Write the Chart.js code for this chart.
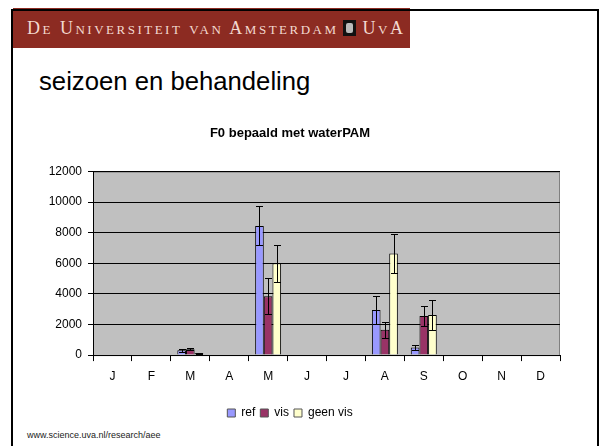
<!DOCTYPE html>
<html>
<head>
<meta charset="utf-8">
<script src="https://cdn.jsdelivr.net/npm/chart.js@4"></script>
<style>
  html,body{margin:0;padding:0;background:#fff;}
  #slide{position:relative;width:600px;height:446px;overflow:hidden;font-family:"Liberation Sans",Arial,sans-serif;}
  #frameTop{position:absolute;left:11px;top:9px;width:588px;height:2px;background:#000;}
  #frameLeft{position:absolute;left:11px;top:9px;width:2px;height:437px;background:#000;}
  #frameRight{position:absolute;left:597px;top:9px;width:2px;height:437px;background:#000;}
  #header{position:absolute;left:13px;top:8px;width:397px;height:40px;background:#8C2B22;}
  #hdrText{position:absolute;left:14px;top:10px;font-family:"Liberation Serif","Times New Roman",serif;font-variant:small-caps;font-size:18px;color:#F3D9D0;letter-spacing:2.5px;white-space:nowrap;}
  #logo{display:inline-block;width:13px;height:16px;background:#111;vertical-align:-2px;margin:0 7px 0 4px;position:relative;}
  #logo:after{content:"";position:absolute;left:3px;top:3px;width:7px;height:10px;background:#bbb;border-radius:2px;}
  #title{position:absolute;left:39px;top:67px;font-size:25.7px;color:#000;white-space:nowrap;}
  #footer{position:absolute;left:27px;top:430px;font-size:9px;color:#222;white-space:nowrap;}
  #chartWrap{position:absolute;left:0;top:0;width:600px;height:446px;}
</style>
</head>
<body>
<div id="slide">
  <div id="header"><div id="hdrText">De Universiteit van Amsterdam<span id="logo"></span>UvA</div></div>
  <div id="frameTop"></div>
  <div id="frameLeft"></div>
  <div id="frameRight"></div>
  <div id="title">seizoen en behandeling</div>
  <div id="footer">www.science.uva.nl/research/aee</div>
  <div id="chartWrap"><canvas id="c" width="600" height="446"></canvas></div>
</div>
<script>
const months = ["J","F","M","A","M","J","J","A","S","O","N","D"];
const yTicks = [0,2000,4000,6000,8000,10000,12000];
const refValues    = [null,null,320,null,8450,null,null,2950,500,null,null,null];
const refErrors    = [null,null,100,null,1280,null,null,930,190,null,null,null];
const visValues    = [null,null,380,null,3850,null,null,1650,2560,null,null,null];
const visErrors    = [null,null,70,null,1170,null,null,500,650,null,null,null];
const geenValues   = [null,null,130,null,6000,null,null,6650,2620,null,null,null];
const geenErrors   = [null,null,30,null,1200,null,null,1300,980,null,null,null];

const errorBarPlugin = {
  id: 'errorBars',
  afterDatasetsDraw(chart) {
    const ctx = chart.ctx;
    const yScale = chart.scales.y;
    chart.data.datasets.forEach((ds, di) => {
      const meta = chart.getDatasetMeta(di);
      meta.data.forEach((bar, i) => {
        const v = ds.data[i];
        const e = ds.errors[i];
        if (v == null || e == null) return;
        const x = Math.round(bar.x);
        const yTop = Math.round(yScale.getPixelForValue(v + e)) + 0.5;
        const yBot = Math.round(yScale.getPixelForValue(v - e)) + 0.5;
        ctx.save();
        ctx.strokeStyle = '#000';
        ctx.lineWidth = 1;
        ctx.beginPath();
        ctx.moveTo(x + 0.5, yTop);
        ctx.lineTo(x + 0.5, yBot);
        ctx.moveTo(x - 3, yTop);
        ctx.lineTo(x + 4, yTop);
        ctx.moveTo(x - 3, yBot);
        ctx.lineTo(x + 4, yBot);
        ctx.stroke();
        ctx.restore();
      });
    });
  }
};

const plotBg = {
  id: 'plotBg',
  beforeDraw(chart) {
    const a = chart.chartArea;
    chart.ctx.save();
    chart.ctx.fillStyle = '#C0C0C0';
    chart.ctx.fillRect(a.left, a.top, a.right - a.left, a.bottom - a.top);
    chart.ctx.strokeStyle = '#808080';
    chart.ctx.lineWidth = 1;
    chart.ctx.strokeRect(a.left + 0.5, a.top + 0.5, a.right - a.left - 1, a.bottom - a.top);
    chart.ctx.restore();
  }
};

Chart.defaults.font.family = '"Liberation Sans", Arial, sans-serif';
Chart.defaults.color = '#000';

new Chart(document.getElementById('c'), {
  type: 'bar',
  data: {
    labels: months,
    datasets: [
      {label:'ref', data: refValues, errors: refErrors, backgroundColor:'#9999FF', borderColor:'#000', borderWidth:1},
      {label:'vis', data: visValues, errors: visErrors, backgroundColor:'#993366', borderColor:'#000', borderWidth:1},
      {label:'geen vis', data: geenValues, errors: geenErrors, backgroundColor:'#FFFFCC', borderColor:'#000', borderWidth:1}
    ]
  },
  options: {
    responsive: false,
    animation: false,
    layout: {padding: {left: 20, right: 40, top: 126, bottom: 17}},
    datasets: {bar: {categoryPercentage: 0.667, barPercentage: 1.0, skipNull: false}},
    plugins: {
      title: {display: true, text: 'F0 bepaald met waterPAM', font: {size: 13, weight: 'bold'}, color:'#000', padding: {top: 0, bottom: 30}},
      legend: {
        display: true, position: 'bottom',
        labels: {boxWidth: 8, boxHeight: 8, padding: 5, font: {size: 12}, color:'#000',
          generateLabels(chart) {
            return chart.data.datasets.map((ds, i) => ({
              text: ds.label, fillStyle: ds.backgroundColor, strokeStyle: '#555', lineWidth: 1, datasetIndex: i, hidden: false
            }));
          }
        }
      },
      tooltip: {enabled: false}
    },
    scales: {
      x: {
        afterFit(scale) { scale.height += 10.5; },
        grid: {display: true, drawOnChartArea: false, drawTicks: true, tickLength: 6, color: '#000', offset: true},
        border: {display: true, color: '#000', width: 1},
        ticks: {font: {size: 12}, padding: 8, color:'#000'}
      },
      y: {
        min: 0, max: 12000,
        afterBuildTicks(scale) { scale.ticks = yTicks.map(v => ({value: v})); },
        afterFit(scale) { scale.width = 73; },
        grid: {color: '#000', tickLength: 5, drawTicks: true},
        border: {display: true, color: '#000'},
        ticks: {font: {size: 12}, padding: 6, color:'#000', callback: (v) => String(v)}
      }
    }
  },
  plugins: [plotBg, errorBarPlugin]
});
</script>
</body>
</html>
